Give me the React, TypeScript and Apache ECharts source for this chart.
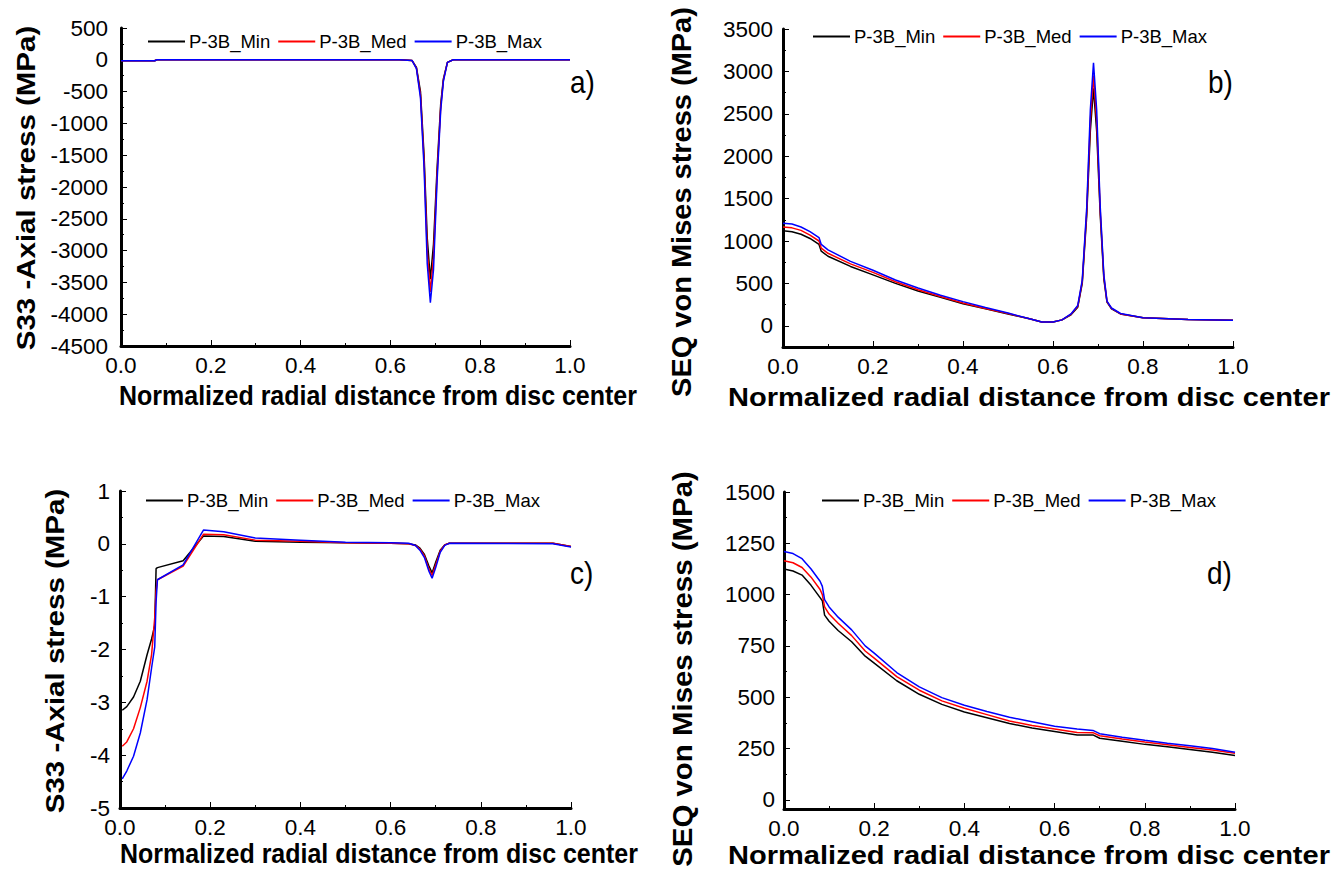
import React, { useEffect, useRef } from 'react';
import * as echarts from 'echarts';

const FONT = '"Liberation Sans", Arial, Helvetica, sans-serif';
const SERIES_NAMES = ['P-3B_Min', 'P-3B_Med', 'P-3B_Max'];
const COLORS = ['#000000', '#ff0000', '#0000ff'];

const X_TITLE = 'Normalized radial distance from disc center';
const Y_TITLE_S33 = 'S33 -Axial stress (MPa)';
const Y_TITLE_SEQ = 'SEQ von Mises stress (MPa)';

// ---------- Panel a) S33 axial stress (large scale) ----------
const xA = [0, 0.075, 0.08, 0.62, 0.648, 0.658, 0.667, 0.675, 0.682, 0.689, 0.696, 0.704, 0.712, 0.718, 0.727, 0.74, 1.0];
const aMin = [-15, -15, 0, 0, -10, -120, -500, -1500, -2800, -3450, -2900, -1700, -700, -300, -40, 0, 0];
const aMed = [-15, -15, 0, 0, -10, -130, -550, -1600, -3000, -3650, -3100, -1800, -750, -320, -40, 0, 0];
const aMax = [-15, -15, 0, 0, -10, -140, -600, -1700, -3200, -3820, -3300, -1900, -800, -340, -40, 0, 0];
const aTicks = [-4500, -4000, -3500, -3000, -2500, -2000, -1500, -1000, -500, 0, 500];
const aMinor = [-4250, -3750, -3250, -2750, -2250, -1750, -1250, -750, -250, 250];

// ---------- Panel b) SEQ von Mises stress ----------
const xB = [0, 0.02, 0.04, 0.06, 0.08, 0.085, 0.1, 0.15, 0.2, 0.25, 0.3, 0.35, 0.4, 0.45, 0.5, 0.55, 0.575, 0.6, 0.62, 0.64, 0.655, 0.665, 0.675, 0.683, 0.69, 0.697, 0.705, 0.713, 0.72, 0.73, 0.75, 0.8, 0.9, 1.0];
const bMin = [1120, 1110, 1080, 1030, 960, 880, 820, 700, 600, 500, 410, 335, 260, 200, 140, 80, 45, 45, 70, 130, 220, 500, 1300, 2300, 2800, 2300, 1300, 550, 280, 200, 140, 95, 75, 65];
const bMed = [1165, 1155, 1125, 1070, 1000, 915, 855, 730, 630, 520, 425, 345, 270, 205, 145, 80, 45, 45, 70, 135, 230, 520, 1350, 2420, 2950, 2420, 1350, 580, 285, 205, 140, 95, 75, 65];
const bMax = [1210, 1200, 1165, 1110, 1040, 960, 895, 760, 655, 540, 445, 360, 285, 215, 150, 80, 45, 45, 70, 140, 240, 540, 1400, 2550, 3100, 2550, 1400, 600, 290, 210, 145, 95, 75, 65];
const bTicks = [0, 500, 1000, 1500, 2000, 2500, 3000, 3500];
const bMinor = [250, 750, 1250, 1750, 2250, 2750, 3250];

// ---------- Panel c) S33 axial stress (small scale) ----------
const xC = [0.005, 0.015, 0.03, 0.045, 0.06, 0.07, 0.077, 0.08, 0.083, 0.14, 0.185, 0.23, 0.3, 0.4, 0.5, 0.6, 0.64, 0.655, 0.665, 0.675, 0.685, 0.692, 0.7, 0.71, 0.72, 0.73, 0.96, 1.0];
const cMin = [-3.15, -3.08, -2.9, -2.6, -2.1, -1.8, -1.55, -0.47, -0.45, -0.32, 0.15, 0.14, 0.05, 0.03, 0.02, 0.01, 0.0, -0.02, -0.08, -0.2, -0.42, -0.55, -0.35, -0.12, -0.02, 0.01, 0.01, -0.05];
const cMed = [-3.83, -3.75, -3.5, -3.1, -2.6, -2.1, -1.4, -0.9, -0.68, -0.42, 0.18, 0.17, 0.07, 0.05, 0.02, 0.01, 0.0, -0.03, -0.1, -0.23, -0.48, -0.6, -0.4, -0.14, -0.02, 0.01, 0.01, -0.05];
const cMax = [-4.45, -4.3, -4.02, -3.58, -2.95, -2.35, -1.95, -1.1, -0.68, -0.4, 0.26, 0.23, 0.11, 0.07, 0.03, 0.02, 0.01, -0.03, -0.12, -0.26, -0.52, -0.65, -0.45, -0.16, -0.03, 0.01, 0.0, -0.06];
const cTicks = [-5, -4, -3, -2, -1, 0, 1];
const cMinor = [-4.5, -3.5, -2.5, -1.5, -0.5, 0.5];

// ---------- Panel d) SEQ von Mises stress (zoomed) ----------
const xD = [0, 0.02, 0.04, 0.06, 0.08, 0.085, 0.09, 0.1, 0.12, 0.15, 0.18, 0.2, 0.25, 0.3, 0.35, 0.4, 0.45, 0.5, 0.55, 0.6, 0.65, 0.685, 0.7, 0.75, 0.8, 0.85, 0.9, 0.95, 1.0];
const dMin = [1125, 1115, 1095, 1045, 985, 970, 900, 870, 825, 770, 700, 666, 580, 514, 465, 428, 400, 372, 350, 333, 316, 316, 300, 285, 270, 258, 245, 232, 216];
const dMed = [1165, 1155, 1132, 1085, 1025, 1000, 940, 905, 860, 800, 725, 690, 600, 534, 482, 446, 415, 384, 362, 345, 328, 327, 312, 296, 281, 268, 255, 242, 227];
const dMax = [1210, 1200, 1175, 1125, 1065, 1040, 975, 940, 890, 828, 750, 715, 620, 550, 498, 461, 430, 402, 380, 358, 345, 338, 322, 305, 290, 276, 263, 250, 232];
const dTicks = [0, 250, 500, 750, 1000, 1250, 1500];
const dMinor = [125, 375, 625, 875, 1125, 1375];

const PANELS = [
  { x: xA, ys: [aMin, aMed, aMax], min: -4500, max: 500, ticks: aTicks, minor: aMinor, labelMargin: 13,
    grid: { left: 121, top: 28, width: 449, height: 318 } },
  { x: xB, ys: [bMin, bMed, bMax], min: -250, max: 3500, ticks: bTicks, minor: bMinor, labelMargin: 10,
    grid: { left: 783, top: 29, width: 450, height: 318 } },
  { x: xC, ys: [cMin, cMed, cMax], min: -5, max: 1, ticks: cTicks, minor: cMinor, labelMargin: 10,
    grid: { left: 120, top: 491, width: 451, height: 317 } },
  { x: xD, ys: [dMin, dMed, dMax], min: -45, max: 1500, ticks: dTicks, minor: dMinor, labelMargin: 9,
    grid: { left: 784, top: 492, width: 451, height: 317 } },
];

const LEGENDS = [
  { left: 148, top: 32 },
  { left: 813, top: 27 },
  { left: 146, top: 491 },
  { left: 822, top: 491 },
];

const PANEL_LETTERS = [
  { text: 'a)', x: 570, y: 82 },
  { text: 'b)', x: 1208, y: 82 },
  { text: 'c)', x: 570, y: 573 },
  { text: 'd)', x: 1207, y: 573 },
];

const X_TITLES = [
  { x: 378, y: 396, size: 25, sx: 1.0, sy: 1.1 },
  { x: 1029, y: 397, size: 26.5, sx: 1.096, sy: 1.0 },
  { x: 379, y: 853.5, size: 25, sx: 1.0, sy: 1.1 },
  { x: 1029, y: 854.5, size: 26.5, sx: 1.096, sy: 1.0 },
];

const Y_TITLES = [
  { text: Y_TITLE_S33, x: 26, y: 188, size: 25, s: 1.18 },
  { text: Y_TITLE_SEQ, x: 682, y: 202, size: 27, s: 1.074 },
  { text: Y_TITLE_S33, x: 55, y: 651, size: 25, s: 1.18 },
  { text: Y_TITLE_SEQ, x: 682, y: 669, size: 27, s: 1.09 },
];

function buildOption() {
  const grid: any[] = [];
  const xAxis: any[] = [];
  const yAxis: any[] = [];
  const series: any[] = [];
  const legend: any[] = [];

  PANELS.forEach((p, gi) => {
    grid.push({ ...p.grid, containLabel: false });
    xAxis.push({
      type: 'value', gridIndex: gi, min: 0, max: 1, interval: 0.2,
      axisLine: { show: true, onZero: false, lineStyle: { color: '#000', width: 3 } },
      axisTick: { show: true, inside: true, length: 6, lineStyle: { color: '#000', width: 1 } },
      minorTick: { show: true, splitNumber: 2, length: 3, lineStyle: { color: '#000', width: 1 } },
      splitLine: { show: false },
      minorSplitLine: { show: false },
      axisLabel: {
        margin: 8, fontSize: 22.5, color: '#000', fontFamily: FONT,
        showMinLabel: true, showMaxLabel: true,
        formatter: (v: number) => v.toFixed(1),
      },
    });
    yAxis.push({
      type: 'value', gridIndex: gi, min: p.min, max: p.max, position: 'left',
      axisLine: { show: true, onZero: false, lineStyle: { color: '#000', width: 3 } },
      axisTick: { show: true, inside: true, length: 6, customValues: p.ticks, lineStyle: { color: '#000', width: 1 } },
      splitLine: { show: false },
      axisLabel: {
        margin: p.labelMargin, fontSize: 22.5, color: '#000', fontFamily: FONT,
        customValues: p.ticks,
        formatter: (v: number) => String(v),
      },
    });
    yAxis.push({
      type: 'value', gridIndex: gi, min: p.min, max: p.max, position: 'left', offset: 0,
      axisLine: { show: false },
      axisTick: { show: true, inside: true, length: 3, customValues: p.minor, lineStyle: { color: '#000', width: 1 } },
      splitLine: { show: false },
      axisLabel: { show: false },
    });
    p.ys.forEach((ys, si) => {
      series.push({
        type: 'line',
        name: SERIES_NAMES[si],
        xAxisIndex: gi,
        yAxisIndex: gi * 2,
        data: p.x.map((xv, i) => [xv, ys[i]]),
        showSymbol: false,
        symbol: 'none',
        lineStyle: { color: COLORS[si], width: 1.5 },
        itemStyle: { color: COLORS[si] },
        z: 2 + si,
      });
    });
    legend.push({
      data: SERIES_NAMES,
      left: LEGENDS[gi].left,
      top: LEGENDS[gi].top,
      orient: 'horizontal',
      padding: 0,
      itemGap: 8,
      itemWidth: 37,
      itemHeight: 2,
      icon: 'rect',
      selectedMode: false,
      textStyle: { fontSize: 18.5, color: '#000', fontFamily: FONT, padding: [0, 0, 0, -1] },
    });
  });

  const graphic: any[] = [];
  X_TITLES.forEach((t) => {
    graphic.push({
      type: 'text', x: t.x, y: t.y, scaleX: t.sx, scaleY: t.sy, silent: true,
      style: {
        text: X_TITLE, fill: '#000', font: `bold ${t.size}px ${FONT}`,
        textAlign: 'center', textVerticalAlign: 'middle', align: 'center', verticalAlign: 'middle',
      },
    });
  });
  Y_TITLES.forEach((t) => {
    graphic.push({
      type: 'text', x: t.x, y: t.y, rotation: Math.PI / 2, scaleX: t.s, scaleY: 1, silent: true,
      style: {
        text: t.text, fill: '#000', font: `bold ${t.size}px ${FONT}`,
        textAlign: 'center', textVerticalAlign: 'middle', align: 'center', verticalAlign: 'middle',
      },
    });
  });
  PANEL_LETTERS.forEach((t) => {
    graphic.push({
      type: 'text', x: t.x, y: t.y, scaleX: 1, scaleY: 1.12, silent: true,
      style: {
        text: t.text, fill: '#000', font: `28px ${FONT}`,
        textAlign: 'left', textVerticalAlign: 'middle', align: 'left', verticalAlign: 'middle',
      },
    });
  });

  return {
    animation: false,
    backgroundColor: '#ffffff',
    grid, xAxis, yAxis, series, legend, graphic,
  };
}

export default function App() {
  const ref = useRef<HTMLDivElement>(null);
  useEffect(() => {
    if (!ref.current) return;
    const chart = echarts.init(ref.current, undefined, { renderer: 'svg' });
    chart.setOption(buildOption() as any);
    return () => chart.dispose();
  }, []);
  return (
    <div
      ref={ref}
      style={{ position: 'fixed', left: 0, top: 0, width: 1335, height: 870, background: '#fff' }}
    />
  );
}
